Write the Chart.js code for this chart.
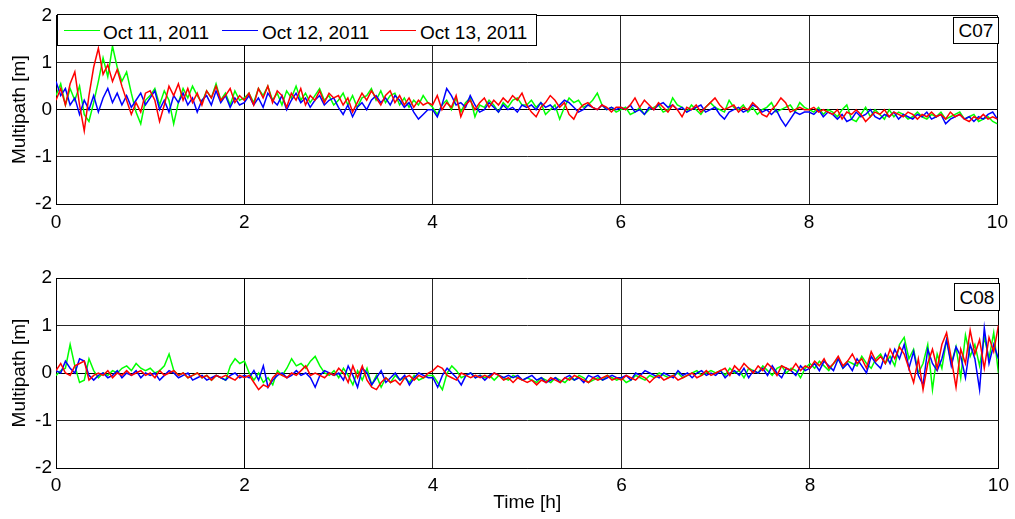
<!DOCTYPE html>
<html>
<head>
<meta charset="utf-8">
<title>Multipath C07 / C08</title>
<script src="https://cdn.jsdelivr.net/npm/chart.js@4.4.0/dist/chart.umd.min.js"></script>
<style>
    body { margin: 0; background: #fff; font-family: "Liberation Sans", Arial, sans-serif; }
    #wrap { position: relative; width: 1015px; height: 519px; overflow: hidden; }
    #wrap canvas { position: absolute; left: 0; }
    #c07-canvas { top: 0; width: 1015px; height: 260px; }
    #c08-canvas { top: 260px; width: 1015px; height: 259px; }
    .legend-box { position: absolute; left: 57px; top: 14px; width: 478px; height: 30px;
                  border: 1px solid #000; background: #fff; }
    .legend-line { position: absolute; top: 30px; height: 1px; }
    .legend-text { position: absolute; top: 23px; font-size: 19px; line-height: 19px; color: #000; white-space: nowrap; }
    .sat-box { position: absolute; width: 44px; border: 1px solid #000; background: #fff;
               font-size: 19px; text-align: center; color: #000; box-sizing: content-box; }
</style>
</head>
<body>
<div id="wrap">
    <canvas id="c07-canvas" width="1015" height="260"></canvas>
    <canvas id="c08-canvas" width="1015" height="259"></canvas>

    <div class="legend-box"></div>
    <div class="legend-line" style="left:64px;width:36px;background:#00ff00"></div>
    <div class="legend-text" style="left:103px">Oct 11, 2011</div>
    <div class="legend-line" style="left:222px;width:36px;background:#0000ff"></div>
    <div class="legend-text" style="left:262px">Oct 12, 2011</div>
    <div class="legend-line" style="left:380px;width:36px;background:#ff0000"></div>
    <div class="legend-text" style="left:420px">Oct 13, 2011</div>

    <div class="sat-box" style="left:953px;top:17px;height:24px;line-height:24px;padding-top:1px">C07</div>
    <div class="sat-box" style="left:954px;top:283px;height:24px;line-height:24px;padding-top:2px">C08</div>
</div>

<script>
// samples every 0.05 h, one row per hour (last value is t = 10 h)
const sampleStep = 0.05;

// C07 multipath [m]
const c07Oct11 = [
    0.3, 0.55, 0.1, 0.45, 0.2, 0.5, -0.1, -0.25, 0.15, 0.6, 1.1, 0.7, 1.35, 0.9, 0.6, 0.8, 0.35, -0.05, -0.3, 0.2,
    0.3, 0.45, 0.1, 0.4, 0.2, -0.3, 0.15, 0.45, 0.25, 0.5, 0.3, 0.15, 0.4, 0.25, 0.55, 0.2, 0.35, 0.1, 0.4, 0.2,
    0.25, 0.35, 0.15, 0.45, 0.3, 0.5, 0.2, 0.35, 0.1, 0.4, 0.25, 0.5, 0.2, 0.35, 0.15, 0.3, 0.45, 0.2, 0.3, 0.1,
    0.2, 0.35, 0.1, 0.3, 0.05, 0.25, 0.3, 0.45, 0.2, 0.4, 0.15, 0.3, 0.35, 0.1, 0.25, 0.05, 0.2, 0.1, 0.3, 0.15,
    0.05, -0.1, 0.1, 0.2, 0.0, 0.25, -0.05, 0.15, 0.25, -0.15, 0.1, 0.05, 0.2, 0.1, -0.05, 0.15, 0.05, 0.2, 0.25, 0.1,
    0.1, 0.2, 0.05, 0.15, -0.1, 0.0, 0.1, -0.2, 0.05, 0.25, 0.15, 0.2, 0.05, 0.1, 0.2, 0.35, 0.1, 0.0, 0.05, -0.05,
    0.0, 0.05, -0.1, -0.05, 0.05, -0.1, 0.0, 0.05, 0.1, -0.05, 0.0, 0.25, 0.1, 0.05, -0.05, 0.1, 0.0, -0.1, 0.05, 0.15,
    0.05, 0.0, -0.05, 0.2, 0.05, 0.0, 0.1, -0.05, 0.05, -0.1, 0.0, 0.05, 0.15, -0.05, 0.0, 0.05, 0.1, -0.05, 0.15, 0.05,
    0.0, -0.05, 0.05, -0.1, 0.0, -0.05, -0.15, 0.0, 0.1, -0.2, -0.25, -0.1, 0.05, -0.15, 0.0, -0.1, -0.2, 0.0, -0.15, -0.05,
    -0.1, -0.2, -0.15, -0.05, -0.15, -0.2, -0.1, -0.15, -0.05, -0.2, -0.15, -0.1, -0.05, -0.2, -0.15, -0.1, -0.25, -0.2, -0.15, -0.25,
    -0.3
];
const c07Oct12 = [
    0.6, 0.3, 0.45, 0.1, 0.25, -0.1, 0.2, 0.0, 0.3, -0.05, 0.25, 0.45, 0.15, 0.35, 0.1, 0.3, 0.05, 0.2, 0.35, 0.1,
    0.25, 0.4, 0.0, 0.2, -0.05, 0.3, 0.15, 0.35, 0.1, 0.25, -0.05, 0.2, 0.3, 0.1, 0.4, 0.15, 0.3, 0.05, 0.25, 0.1,
    0.15, 0.3, 0.1, 0.25, 0.05, 0.35, 0.2, 0.1, 0.3, 0.0, 0.2, 0.35, 0.15, 0.25, 0.05, 0.2, 0.3, 0.1, 0.2, 0.25,
    0.05, -0.1, 0.1, -0.15, 0.05, 0.15, 0.0, 0.2, 0.3, 0.15, 0.25, 0.1, 0.3, 0.2, 0.05, 0.15, -0.05, -0.2, -0.1, 0.0,
    0.0, -0.15, 0.1, 0.45, 0.3, 0.1, 0.15, 0.05, 0.3, 0.1, -0.05, 0.0, 0.15, 0.05, -0.05, 0.1, 0.0, 0.05, -0.05, 0.1,
    0.05, 0.1, 0.0, 0.15, 0.05, 0.1, 0.0, 0.1, 0.2, 0.15, 0.05, -0.05, 0.0, 0.1, 0.05, 0.0, 0.1, 0.0, 0.05, 0.0,
    0.05, 0.0, 0.1, -0.05, 0.0, -0.1, 0.05, 0.0, 0.1, 0.15, 0.05, 0.1, 0.0, 0.05, -0.05, 0.0, 0.05, 0.1, -0.05, 0.0,
    0.05, -0.1, -0.2, -0.05, 0.0, 0.05, -0.05, 0.0, 0.1, 0.05, -0.05, 0.0, -0.1, 0.0, -0.2, -0.35, -0.2, -0.05, -0.1, -0.05,
    -0.05, -0.1, 0.0, -0.15, -0.05, -0.1, -0.2, -0.1, -0.25, -0.2, -0.05, -0.15, -0.1, 0.0, -0.15, -0.2, -0.1, -0.15, -0.05, -0.2,
    -0.1, -0.15, -0.2, -0.1, -0.15, -0.05, -0.2, -0.15, -0.1, -0.3, -0.2, -0.15, -0.1, -0.2, -0.15, -0.25, -0.15, -0.2, -0.1, -0.05,
    -0.2
];
const c07Oct13 = [
    0.2, 0.45, 0.1, 0.55, 0.8, 0.1, -0.45, 0.3, 0.9, 1.3, 0.75, 0.95, 0.6, 0.85, 0.5, 0.2, -0.1, 0.15, -0.05, 0.35,
    0.4, 0.2, -0.25, 0.1, 0.5, 0.3, 0.55, 0.2, 0.45, 0.15, 0.35, 0.1, 0.4, 0.25, 0.5, 0.2, 0.3, 0.45, 0.15, 0.3,
    0.2, 0.35, 0.1, 0.45, 0.25, 0.5, 0.15, 0.4, 0.3, 0.05, 0.35, 0.2, 0.45, 0.1, 0.3, 0.2, 0.4, 0.15, 0.35, 0.25,
    0.3, 0.1, 0.25, -0.05, 0.15, 0.35, 0.2, 0.4, 0.25, 0.1, 0.3, 0.4, 0.15, 0.3, 0.1, 0.25, 0.05, 0.2, 0.1, 0.15,
    0.1, 0.3, 0.0, 0.15, 0.05, 0.3, -0.15, 0.1, 0.2, 0.0, 0.15, 0.25, 0.05, 0.2, 0.1, 0.25, 0.15, 0.3, 0.2, 0.35,
    0.1, -0.05, -0.15, 0.05, 0.15, 0.3, 0.2, 0.05, 0.15, -0.1, -0.2, 0.0, 0.1, 0.15, 0.05, 0.0, 0.1, 0.05, -0.05, 0.05,
    0.05, 0.0, 0.1, 0.25, 0.05, 0.2, 0.1, 0.0, 0.15, 0.05, -0.05, 0.1, 0.0, -0.15, 0.05, 0.0, 0.1, -0.05, 0.05, 0.15,
    0.25, 0.1, 0.0, 0.05, 0.1, -0.05, 0.05, 0.0, 0.15, 0.05, -0.1, -0.15, 0.0, 0.1, 0.25, 0.15, -0.05, 0.0, 0.05, 0.0,
    0.0, 0.05, -0.05, 0.0, -0.05, -0.1, 0.0, -0.2, -0.05, -0.1, 0.0, -0.1, -0.25, -0.15, -0.05, -0.1, 0.0, -0.15, -0.05, -0.1,
    -0.15, -0.05, -0.1, -0.2, -0.1, -0.15, -0.05, -0.15, -0.1, -0.2, -0.05, -0.15, -0.1, -0.2, -0.25, -0.15, -0.2, -0.1, -0.2, -0.15,
    -0.2
];

// C08 multipath [m]
const c08Oct11 = [
    -0.05, 0.05, 0.1, 0.6, 0.15, -0.2, -0.15, 0.3, 0.05, -0.1, 0.0, -0.05, 0.05, 0.0, 0.1, 0.15, 0.05, 0.2, 0.1, 0.05,
    0.1, 0.0, 0.05, 0.15, 0.4, 0.05, -0.05, 0.0, -0.1, -0.05, 0.0, -0.1, -0.05, -0.15, -0.05, -0.1, -0.15, 0.15, 0.3, 0.2,
    0.25, 0.0, -0.15, 0.0, -0.2, -0.1, -0.25, 0.05, -0.05, 0.1, 0.3, 0.15, 0.2, 0.1, 0.25, 0.35, 0.15, 0.0, -0.05, 0.05,
    -0.1, 0.1, -0.05, -0.25, 0.05, -0.15, 0.1, -0.25, -0.05, -0.3, -0.1, -0.2, -0.05, -0.15, -0.1, -0.2, -0.05, -0.15, -0.1, -0.05,
    -0.05, -0.2, -0.35, 0.0, 0.15, 0.05, -0.1, -0.05, 0.0, -0.1, -0.05, -0.1, -0.05, -0.15, -0.05, -0.1, -0.15, -0.05, -0.1, -0.15,
    -0.1, -0.15, -0.2, -0.1, -0.15, -0.2, -0.1, -0.15, -0.2, -0.1, -0.15, -0.05, -0.1, -0.2, -0.15, -0.1, -0.15, -0.05, -0.1, -0.15,
    -0.1, -0.2, -0.15, -0.05, -0.1, -0.15, -0.05, -0.1, 0.0, -0.05, -0.1, -0.05, 0.0, -0.1, -0.05, 0.0, 0.05, -0.05, 0.0, 0.05,
    0.0, 0.05, -0.05, 0.1, 0.0, 0.05, -0.1, 0.1, 0.05, 0.0, 0.15, 0.05, -0.05, 0.1, 0.15, 0.0, 0.1, 0.05, -0.1, 0.1,
    0.2, 0.1, 0.25, 0.15, 0.05, 0.2, 0.3, 0.1, 0.25, 0.2, 0.15, 0.35, 0.2, 0.1, 0.3, 0.4, 0.2, 0.35, 0.15, 0.6,
    0.75, 0.3, 0.5, 0.0, 0.2, 0.6, -0.35, 0.4, 0.1, 0.7, 0.2, 0.55, -0.1, 0.8, 0.35, 0.6, 0.15, 0.75, 0.3, 0.85,
    0.0
];
const c08Oct12 = [
    0.05, 0.0, 0.25, 0.1, 0.0, 0.3, 0.25, -0.05, -0.15, -0.05, 0.0, -0.1, -0.05, 0.05, -0.1, 0.0, -0.05, 0.05, -0.1, 0.0,
    -0.05, 0.0, -0.15, -0.05, 0.05, 0.0, -0.1, -0.05, 0.0, -0.15, -0.1, -0.05, -0.15, -0.1, -0.05, -0.1, -0.15, -0.05, 0.0, -0.1,
    -0.05, -0.1, 0.05, -0.15, 0.15, -0.3, -0.15, -0.05, 0.0, -0.1, -0.05, 0.05, -0.05, 0.0, -0.1, -0.3, -0.05, 0.05, 0.0, -0.05,
    0.0, -0.15, 0.15, -0.05, -0.3, 0.1, 0.0, -0.25, -0.1, 0.05, -0.2, -0.1, 0.0, -0.15, -0.05, -0.25, -0.1, 0.0, -0.05, -0.1,
    -0.1, -0.3, -0.05, 0.1, 0.0, -0.1, -0.25, -0.05, 0.0, -0.1, -0.05, -0.15, -0.05, 0.0, -0.05, -0.1, -0.05, -0.1, -0.05, -0.15,
    -0.1, -0.05, -0.15, -0.1, -0.2, -0.15, -0.1, -0.2, -0.1, -0.05, -0.15, -0.1, -0.2, -0.05, -0.1, -0.05, -0.15, -0.1, -0.05, -0.1,
    -0.1, -0.05, -0.15, 0.0, -0.05, 0.05, 0.0, -0.05, -0.1, 0.0, -0.05, -0.1, 0.05, -0.05, 0.0, -0.1, 0.0, 0.05, -0.05, 0.0,
    -0.05, 0.05, -0.1, 0.0, 0.05, -0.05, 0.1, -0.1, 0.05, 0.0, 0.1, -0.05, 0.15, 0.0, -0.1, 0.1, 0.05, -0.05, 0.15, 0.05,
    0.1, 0.2, 0.05, 0.25, 0.15, 0.05, 0.3, 0.1, 0.2, 0.05, 0.3, 0.15, 0.0, 0.35, 0.2, 0.1, 0.4, 0.2, 0.5, 0.3,
    0.6, 0.1, 0.45, -0.05, -0.25, 0.5, 0.2, 0.05, 0.3, 0.7, 0.15, 0.55, 0.35, -0.1, 0.6, 0.3, -0.35, 0.95, 0.2, 0.6,
    0.3
];
const c08Oct13 = [
    0.05, 0.2, 0.0, -0.05, 0.15, 0.2, 0.25, -0.15, -0.05, 0.0, -0.05, 0.05, -0.1, 0.0, -0.05, 0.05, -0.05, 0.0, 0.05, -0.05,
    0.0, -0.1, 0.05, -0.05, 0.0, 0.05, -0.05, 0.0, -0.1, -0.05, 0.0, -0.1, -0.05, -0.15, -0.05, -0.1, -0.05, -0.1, -0.15, -0.05,
    -0.1, -0.05, -0.2, -0.35, -0.25, -0.3, -0.1, 0.0, -0.05, -0.1, 0.0, -0.05, 0.05, 0.15, -0.05, 0.0, -0.05, -0.1, 0.0, -0.05,
    0.1, 0.0, -0.2, 0.15, -0.1, 0.15, -0.15, -0.3, -0.35, -0.2, -0.1, -0.2, -0.15, -0.25, -0.1, -0.05, -0.15, -0.05, -0.1, 0.0,
    0.05, 0.15, 0.1, -0.05, -0.1, -0.15, 0.0, -0.05, -0.1, -0.05, -0.1, -0.05, -0.1, 0.0, -0.05, -0.15, -0.1, -0.2, -0.1, -0.15,
    -0.2, -0.15, -0.25, -0.15, -0.2, -0.1, -0.15, -0.2, -0.1, -0.15, -0.05, -0.1, -0.15, -0.2, -0.1, -0.15, -0.1, -0.05, -0.15, -0.1,
    -0.15, -0.05, -0.1, -0.15, -0.05, -0.1, -0.2, -0.1, -0.05, -0.15, -0.1, -0.05, -0.15, -0.1, -0.05, 0.0, -0.1, -0.05, 0.05, -0.05,
    0.0, 0.05, 0.1, -0.05, 0.15, 0.05, 0.2, 0.1, 0.0, 0.15, 0.05, 0.2, 0.1, -0.05, 0.15, 0.1, 0.05, 0.2, 0.05, 0.15,
    0.1, 0.25, 0.15, 0.3, 0.1, 0.2, 0.35, 0.15, 0.25, 0.4, 0.2, 0.3, 0.1, 0.45, 0.25, 0.35, 0.2, 0.5, 0.3, 0.55,
    0.4, 0.1, -0.2, 0.3, -0.35, 0.2, 0.5, 0.1, 0.6, 0.85, 0.3, -0.3, 0.5, 0.2, 0.9, 0.4, 0.7, 0.1, 0.75, 0.45,
    1.0
];

const xTicks = [0, 2, 4, 6, 8, 10];
const yTicks = [-2, -1, 0, 1, 2];

const axisFont = { family: '"Liberation Sans", Arial, sans-serif', size: 19 };

function toPoints(values) {
    return values.map((v, i) => ({ x: i * sampleStep, y: v }));
}

function lineSet(label, values, color, order) {
    return {
        label: label,
        data: toPoints(values),
        borderColor: color,
        borderWidth: 1.5,
        pointRadius: 0,
        tension: 0,
        fill: false,
        order: order
    };
}

// outer box edges in black, inner grid a bit softer
function gridColor(ctx) {
    const v = ctx.tick ? ctx.tick.value : null;
    if (v === xTicks[0] || v === xTicks[xTicks.length - 1] ||
        v === yTicks[0] || v === yTicks[yTicks.length - 1]) return '#000';
    return '#262626';
}

function buildChart(canvasId, green, blue, red, cfg) {
    const ctx = document.getElementById(canvasId).getContext('2d');
    return new Chart(ctx, {
        type: 'line',
        data: {
            datasets: [
                lineSet('Oct 11, 2011', green, '#00ff00', 3),
                lineSet('Oct 12, 2011', blue, '#0000ff', 2),
                lineSet('Oct 13, 2011', red, '#ff0000', 1)
            ]
        },
        options: {
            responsive: false,
            animation: false,
            events: [],
            layout: { padding: { top: cfg.padTop, right: 12, left: 0, bottom: 0 } },
            plugins: {
                legend: { display: false },
                tooltip: { enabled: false }
            },
            scales: {
                x: {
                    type: 'linear',
                    min: xTicks[0],
                    max: xTicks[xTicks.length - 1],
                    afterBuildTicks: s => { s.ticks = xTicks.map(v => ({ value: v })); },
                    ticks: { color: '#000', font: axisFont, padding: cfg.xPad, maxRotation: 0 },
                    grid: { color: gridColor, lineWidth: 1, drawTicks: false },
                    border: { color: '#000' },
                    title: {
                        display: !!cfg.xTitle,
                        text: cfg.xTitle || '',
                        color: '#000',
                        font: axisFont,
                        padding: { top: 0, bottom: 5 }
                    },
                    afterFit: s => { s.height = cfg.xHeight; }
                },
                y: {
                    min: yTicks[0],
                    max: yTicks[yTicks.length - 1],
                    afterBuildTicks: s => { s.ticks = yTicks.map(v => ({ value: v })); },
                    ticks: { color: '#000', font: axisFont, padding: 4 },
                    grid: { color: gridColor, lineWidth: 1, drawTicks: false },
                    border: { color: '#000' },
                    title: {
                        display: true,
                        text: 'Multipath [m]',
                        color: '#000',
                        font: axisFont,
                        padding: { top: 8, bottom: 0 }
                    },
                    afterFit: s => { s.width = 56; }
                }
            }
        }
    });
}

buildChart('c07-canvas', c07Oct11, c07Oct12, c07Oct13, { padTop: 14, xHeight: 56, xPad: 7 });
buildChart('c08-canvas', c08Oct11, c08Oct12, c08Oct13, { padTop: 18, xHeight: 51, xPad: 6, xTitle: 'Time [h]' });
</script>
</body>
</html>
